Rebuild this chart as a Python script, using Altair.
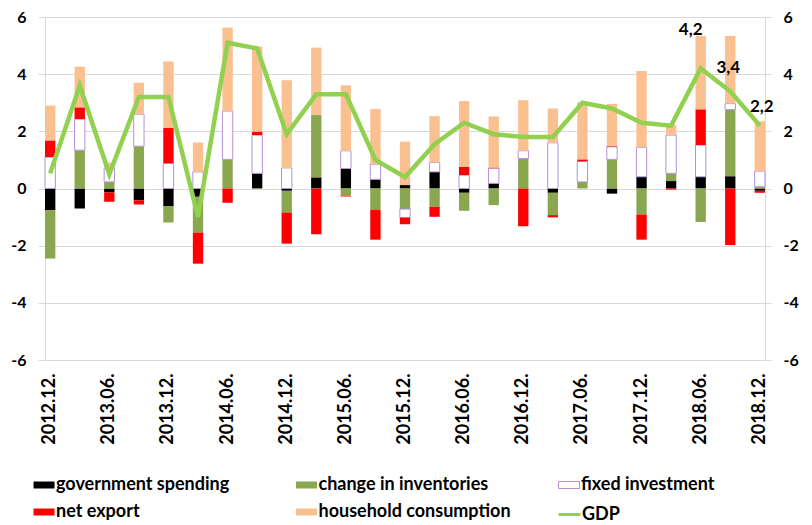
import altair as alt
import pandas as pd

quarters = ["2012.12.", "2013.03.", "2013.06.", "2013.09.", "2013.12.",
            "2014.03.", "2014.06.", "2014.09.", "2014.12.",
            "2015.03.", "2015.06.", "2015.09.", "2015.12.",
            "2016.03.", "2016.06.", "2016.09.", "2016.12.",
            "2017.03.", "2017.06.", "2017.09.", "2017.12.",
            "2018.03.", "2018.06.", "2018.09.", "2018.12."]

gov_spending = [-0.76, -0.70, -0.14, -0.41, -0.61, -0.29, 0.00, 0.53, -0.08,
                0.39, 0.70, 0.32, 0.12, 0.58, -0.15, 0.18, 0.00, -0.15,
                0.00, -0.18, 0.41, 0.26, 0.41, 0.43, -0.08]
inventories = [-1.69, 1.34, 0.23, 1.48, -0.58, -1.25, 1.02, -0.02, -0.76,
               2.18, -0.26, -0.74, -0.72, -0.64, -0.63, -0.58, 1.05, -0.78,
               0.23, 1.02, -0.91, 0.27, -1.17, 2.33, 0.06]
fixed_inv = [1.10, 1.09, 0.49, 1.12, 0.88, 0.58, 1.69, 1.34, 0.72,
             0.00, 0.62, 0.53, -0.30, 0.33, 0.47, 0.53, 0.27, 1.60,
             0.72, 0.44, 1.03, 1.34, 1.11, 0.21, 0.55]
net_export = [0.58, 0.41, -0.32, -0.15, 1.24, -1.09, -0.50, 0.12, -1.09,
              -1.60, -0.02, -1.05, -0.23, -0.35, 0.29, 0.02, -1.32, -0.08,
              0.07, 0.02, -0.88, -0.04, 1.25, -1.98, -0.07]
household = [1.22, 1.42, 0.19, 1.10, 2.32, 1.03, 2.92, 2.98, 3.07,
             2.36, 2.29, 1.93, 1.52, 1.62, 2.30, 1.79, 1.77, 1.20,
             2.00, 1.48, 2.67, 0.35, 2.57, 2.37, 1.74]
gdp = [0.53, 3.6, 0.5, 3.2, 3.2, -1.0, 5.1, 4.9, 1.9,
       3.3, 3.3, 1.0, 0.4, 1.55, 2.3, 1.9, 1.8, 1.8,
       3.0, 2.8, 2.3, 2.2, 4.2, 3.4, 2.2]

components = ["government spending", "change in inventories", "fixed investment",
              "net export", "household consumption"]
fill_colors = ["#000000", "#8AA64F", "#FFFFFF", "#FF0000", "#FAC090"]
stroke_colors = ["transparent", "transparent", "#B490D8", "transparent", "transparent"]

labelled_quarters = ["2018.06.", "2018.09.", "2018.12."]

rows = []
for i, q in enumerate(quarters):
    for k, vals in enumerate([gov_spending, inventories, fixed_inv, net_export, household]):
        rows.append({"quarter": q, "component": components[k], "value": vals[i], "order": k})
bars_df = pd.DataFrame(rows)
line_df = pd.DataFrame({"quarter": quarters, "gdp": gdp, "series": ["GDP"] * len(quarters)})

FONT = "Lato"
GRID = "#D9D9D9"

x_axis = alt.Axis(values=quarters[::2], labelAngle=270, ticks=False, tickSize=0,
                  domainColor=GRID, labelFont=FONT, labelFontSize=18,
                  labelFontWeight="bold", labelColor="black", labelPadding=13,
                  title=None, grid=False, labelOverlap=False)
x_enc = alt.X("quarter:N", sort=quarters,
              scale=alt.Scale(paddingInner=0.65, paddingOuter=0), axis=x_axis)
y_scale = alt.Scale(domain=[-6, 6], nice=False)
y_vals = [-6, -4, -2, 0, 2, 4, 6]

legend_common = dict(title=None, orient="none", legendX=-13, legendY=459,
                     direction="horizontal", columns=3, gridAlign="all",
                     columnPadding=44.5, rowPadding=9,
                     symbolType="M-1.07,-0.5H1.93V0.5H-1.07Z", symbolSize=196,
                     symbolStrokeWidth=1, labelFont=FONT, labelFontSize=18,
                     labelFontWeight="bold", labelColor="black", labelOffset=6,
                     labelLimit=400, padding=0)

bars = alt.Chart(bars_df).transform_filter("datum.value != 0").mark_bar().encode(
    x=x_enc,
    y=alt.Y("value:Q", stack="zero", scale=y_scale,
            axis=alt.Axis(orient="left", values=y_vals, grid=True, gridColor=GRID,
                          gridWidth=1, domainColor=GRID, tickColor=GRID, tickSize=7,
                          labelPadding=12, labelFont=FONT, labelFontSize=16,
                          labelFontWeight="bold", labelColor="black", title=None,
                          labelExpr="'' + datum.value")),
    fill=alt.Fill("component:N", scale=alt.Scale(domain=components, range=fill_colors),
                  legend=alt.Legend(**legend_common)),
    stroke=alt.Stroke("component:N", scale=alt.Scale(domain=components, range=stroke_colors),
                      legend=alt.Legend(**legend_common)),
    order=alt.Order("order:Q", sort="ascending"),
)

line = alt.Chart(line_df).mark_line(strokeWidth=4.5).encode(
    x=x_enc,
    y=alt.Y("gdp:Q", scale=y_scale,
            axis=alt.Axis(orient="right", values=y_vals, grid=False, domainColor=GRID,
                          tickColor=GRID, tickSize=6, labelPadding=12, labelFont=FONT,
                          labelFontSize=16, labelFontWeight="bold", labelColor="black",
                          title=None, labelExpr="'' + datum.value")),
    color=alt.Color("series:N", scale=alt.Scale(domain=["GDP"], range=["#92D050"]),
                    legend=alt.Legend(title=None, orient="none", legendX=512, legendY=485,
                                      symbolType="stroke", symbolSize=484,
                                      symbolStrokeWidth=3, labelFont=FONT,
                                      labelFontSize=18, labelFontWeight="bold",
                                      labelColor="black", labelOffset=0, padding=0)),
)

offsets = [(-10, -38), (-2, -23), (2, -19)]
texts = []
for q, (dx, dy) in zip(labelled_quarters, offsets):
    texts.append(
        alt.Chart(line_df).transform_filter(alt.datum.quarter == q)
        .transform_calculate(label="replace(format(datum.gdp, '.1f'), '.', ',')")
        .mark_text(dx=dx, dy=dy, font=FONT, fontSize=17, fontWeight="bold", color="black")
        .encode(x=x_enc, y=alt.Y("gdp:Q", scale=y_scale, axis=None), text="label:N")
    )

chart = alt.layer(bars, line, *texts).resolve_axis(y="independent").properties(
    width=720, height=343,
    padding={"left": 45, "top": 17, "right": 47, "bottom": 165},
    autosize=alt.AutoSizeParams(type="none"),
    background="white",
).configure_view(strokeWidth=0)

chart.save("out.html", embed_options={"renderer": "svg", "actions": False})
